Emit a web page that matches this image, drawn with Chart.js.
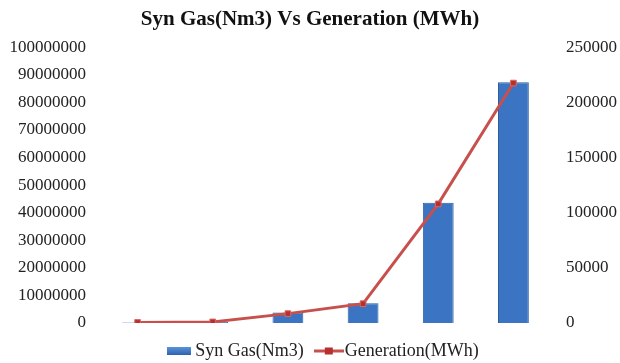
<!DOCTYPE html>
<html>
<head>
<meta charset="utf-8">
<script src="https://cdn.jsdelivr.net/npm/chart.js@4.4.0/dist/chart.umd.min.js"></script>
<style>
  html, body { margin: 0; padding: 0; background: #fff; }
  #wrap { width: 620px; height: 363px; }
</style>
</head>
<body>
<div id="wrap"><canvas id="myChart" width="620" height="363"></canvas></div>
<script>
const categories = ['1', '2', '3', '4', '5', '6'];
const synGas = [150000, 400000, 3800000, 7200000, 43600000, 87300000];
const generation = [500, 1000, 8500, 17500, 108000, 217500];
const leftTicks = [0, 10000000, 20000000, 30000000, 40000000, 50000000, 60000000, 70000000, 80000000, 90000000, 100000000];
const rightTicks = [0, 50000, 100000, 150000, 200000, 250000];

const serif = "'Liberation Serif', 'Times New Roman', serif";
const barBlue = '#3a74c2';
const lineRed = '#c8504c';

// horizontal shading across each bar
const barFill = (ctx) => {
    const el = ctx.element;
    if (!el || !el.width || !isFinite(el.x)) return barBlue;
    const c = ctx.chart.ctx;
    const x0 = el.x - el.width / 2;
    const g = c.createLinearGradient(x0, 0, x0 + el.width, 0);
    g.addColorStop(0, '#4a86d2');
    g.addColorStop(0.5, '#3b78c8');
    g.addColorStop(1, '#2d63ad');
    return g;
};

// little legend symbols: a flat blue box, and a line with a square marker
const boxIcon = () => {
    const cv = document.createElement('canvas');
    cv.width = 24; cv.height = 8;
    const c = cv.getContext('2d');
    const g = c.createLinearGradient(0, 0, 0, 8);
    g.addColorStop(0, '#5b93da');
    g.addColorStop(1, '#2d63ad');
    c.fillStyle = g;
    c.fillRect(0, 0, 24, 8);
    return cv;
};
const lineIcon = () => {
    const cv = document.createElement('canvas');
    cv.width = 30; cv.height = 9;
    const c = cv.getContext('2d');
    c.strokeStyle = lineRed;
    c.lineWidth = 3;
    c.beginPath(); c.moveTo(0, 4.5); c.lineTo(30, 4.5); c.stroke();
    c.fillStyle = '#b8302d';
    c.fillRect(11, 1, 8, 7);
    return cv;
};
const icons = [boxIcon(), lineIcon()];

const data = {
    labels: categories,
    datasets: [{
        type: 'bar',
        label: 'Syn Gas(Nm3)',
        data: synGas,
        yAxisID: 'y',
        backgroundColor: barFill,
        borderColor: '#2b5d9f',
        borderWidth: 1,
        barPercentage: 0.41,
        categoryPercentage: 1,
        order: 2
    }, {
        type: 'line',
        label: 'Generation(MWh)',
        data: generation,
        yAxisID: 'y1',
        borderColor: lineRed,
        backgroundColor: '#b8302d',
        borderWidth: 3,
        pointStyle: 'rect',
        pointRadius: 4,
        pointBorderColor: '#d66a66',
        pointBorderWidth: 1,
        tension: 0,
        order: 1
    }]
};

const config = {
    data: data,
    options: {
        responsive: false,
        animation: false,
        layout: { padding: { left: 0, right: 0, top: 0, bottom: -7 } },
        plugins: {
            title: {
                display: true,
                text: 'Syn Gas(Nm3) Vs Generation (MWh)',
                color: '#111',
                font: { family: serif, size: 21, weight: 'bold' },
                padding: { top: 7, bottom: 15 }
            },
            legend: {
                position: 'bottom',
                fullSize: false,
                labels: {
                    color: '#222',
                    font: { family: serif, size: 18 },
                    usePointStyle: true,
                    pointStyleWidth: 14,
                    boxHeight: 8,
                    padding: 18,
                    generateLabels: (chart) => chart.data.datasets.map((ds, i) => ({
                        text: ds.label,
                        datasetIndex: i,
                        pointStyle: icons[i],
                        fontColor: '#222',
                        hidden: false,
                        lineWidth: 0
                    }))
                }
            },
            tooltip: { enabled: false }
        },
        scales: {
            x: {
                display: true,
                offset: true,
                grid: { display: false, drawTicks: false },
                border: { display: false },
                ticks: { display: false },
                afterFit: (axis) => { axis.height = 1; }
            },
            y: {
                position: 'left',
                min: 0,
                max: 100000000,
                afterBuildTicks: (axis) => { axis.ticks = leftTicks.map(v => ({ value: v })); },
                afterFit: (axis) => { axis.width = 100; },
                grid: { display: false, drawTicks: false },
                border: { display: false },
                ticks: {
                    color: '#222',
                    font: { family: serif, size: 17 },
                    padding: 14,
                    callback: (v) => String(v)
                }
            },
            y1: {
                position: 'right',
                min: 0,
                max: 250000,
                afterBuildTicks: (axis) => { axis.ticks = rightTicks.map(v => ({ value: v })); },
                afterFit: (axis) => { axis.width = 69; },
                grid: { display: false, drawTicks: false },
                border: { display: false },
                ticks: {
                    color: '#222',
                    font: { family: serif, size: 17 },
                    padding: 15,
                    callback: (v) => String(v)
                }
            }
        }
    }
};

var myChart = new Chart(document.getElementById('myChart'), config);
</script>
</body>
</html>
